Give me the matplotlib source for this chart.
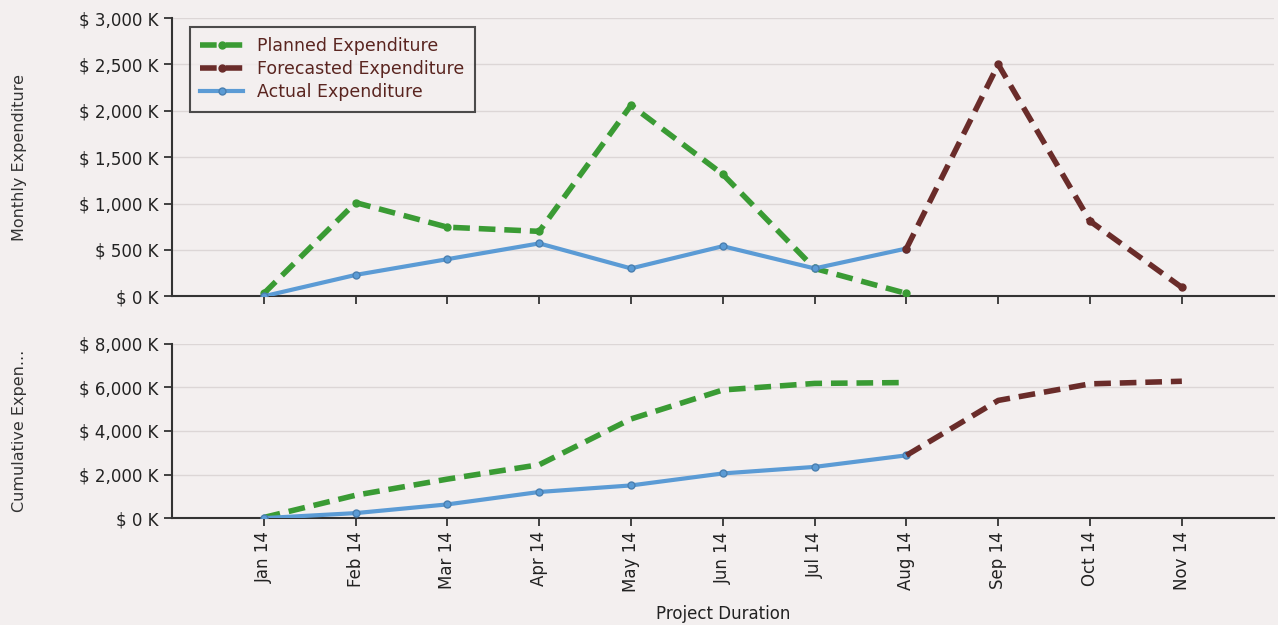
import numpy as np
import matplotlib.pyplot as plt
from matplotlib.ticker import FuncFormatter

plt.rcParams['font.family'] = ['DejaVu Sans']

# data (values in $K)
months = ['Jan 14', 'Feb 14', 'Mar 14', 'Apr 14', 'May 14', 'Jun 14',
          'Jul 14', 'Aug 14', 'Sep 14', 'Oct 14', 'Nov 14']
planned_monthly = [30, 1010, 745, 700, 2060, 1315, 300, 30]
actual_monthly = [0, 230, 400, 570, 300, 540, 300, 515]
forecast_monthly = [515, 2500, 810, 95]          # Aug..Nov
planned_cum = [30, 1050, 1790, 2450, 4550, 5880, 6180, 6220]
actual_cum = [0, 230, 630, 1200, 1500, 2050, 2350, 2880]
forecast_cum = [2880, 5400, 6160, 6280]          # Aug..Nov

GREEN = '#3a9b34'
BROWN = '#6a2c2a'
BLUE = '#5b9bd5'
BG = '#f3efef'
TXT = '#222222'

x_all = np.arange(len(months))
x_pl = x_all[:len(planned_monthly)]
x_fc = x_all[7:7 + len(forecast_monthly)]

fig = plt.figure(figsize=(12.78, 6.25), dpi=100, facecolor=BG)
ax1 = fig.add_axes([0.1346, 0.526, 0.862, 0.445])
ax2 = fig.add_axes([0.1346, 0.171, 0.862, 0.279])

def kfmt(v, pos):
    return f'$ {int(v):,} K'

def style(ax):
    ax.set_facecolor(BG)
    for s in ['top', 'right']:
        ax.spines[s].set_visible(False)
    for s in ['left', 'bottom']:
        ax.spines[s].set_color('#333333')
        ax.spines[s].set_linewidth(1.5)
    ax.grid(axis='y', color='#dcd6d6', linewidth=1)
    ax.set_axisbelow(True)
    ax.set_xlim(-1, 11)
    ax.set_xticks(x_all)
    ax.tick_params(axis='both', direction='out', length=6, width=1.3,
                   color='#333333', labelcolor=TXT, labelsize=12)
    ax.yaxis.set_major_formatter(FuncFormatter(kfmt))

dash = (3, 1.6)

# monthly
ax1.plot(x_pl, planned_monthly, color=GREEN, lw=4, ls=(0, dash),
         marker='o', ms=5, label='Planned Expenditure', zorder=3)
ax1.plot(x_pl, actual_monthly, color=BLUE, lw=3, marker='o', ms=5,
         mfc=BLUE, mec='#4a7fb0', label='Actual Expenditure', zorder=4)
ax1.plot(x_fc, forecast_monthly, color=BROWN, lw=4, ls=(0, dash),
         marker='o', ms=5, label='Forecasted Expenditure', zorder=5)
style(ax1)
ax1.set_ylim(0, 3000)
ax1.set_yticks(np.arange(0, 3001, 500))
ax1.tick_params(axis='x', labelbottom=False)
ax1.set_ylabel('Monthly Expenditure', fontsize=11.5, color='#333333')
ax1.yaxis.set_label_coords(-0.132, 0.5)

h, l = ax1.get_legend_handles_labels()
order = [0, 2, 1]
leg = ax1.legend([h[i] for i in order], [l[i] for i in order],
                 loc='upper left', bbox_to_anchor=(0.016, 0.968),
                 borderaxespad=0, frameon=True, fancybox=False, fontsize=12.5,
                 handlelength=2.5, handletextpad=0.8, borderpad=0.6,
                 labelspacing=0.28, edgecolor='#222222', facecolor=BG)
leg.get_frame().set_linewidth(1.5)
for t in leg.get_texts():
    t.set_color('#5a2520')

# cumulative
ax2.plot(x_pl, planned_cum, color=GREEN, lw=4, ls=(0, dash), zorder=3)
ax2.plot(x_pl, actual_cum, color=BLUE, lw=3, marker='o', ms=5,
         mfc=BLUE, mec='#4a7fb0', zorder=4)
ax2.plot(x_fc, forecast_cum, color=BROWN, lw=4, ls=(0, dash), zorder=5)
style(ax2)
ax2.set_ylim(0, 8000)
ax2.set_yticks(np.arange(0, 8001, 2000))
ax2.set_xticklabels(months, rotation=90)
ax2.set_ylabel('Cumulative Expen...', fontsize=11.5, color='#333333')
ax2.yaxis.set_label_coords(-0.132, 0.5)
ax2.set_xlabel('Project Duration', fontsize=12, color=TXT)
ax2.xaxis.set_label_coords(0.5, -0.5)

fig.savefig('out.png', dpi=100, facecolor=BG)
